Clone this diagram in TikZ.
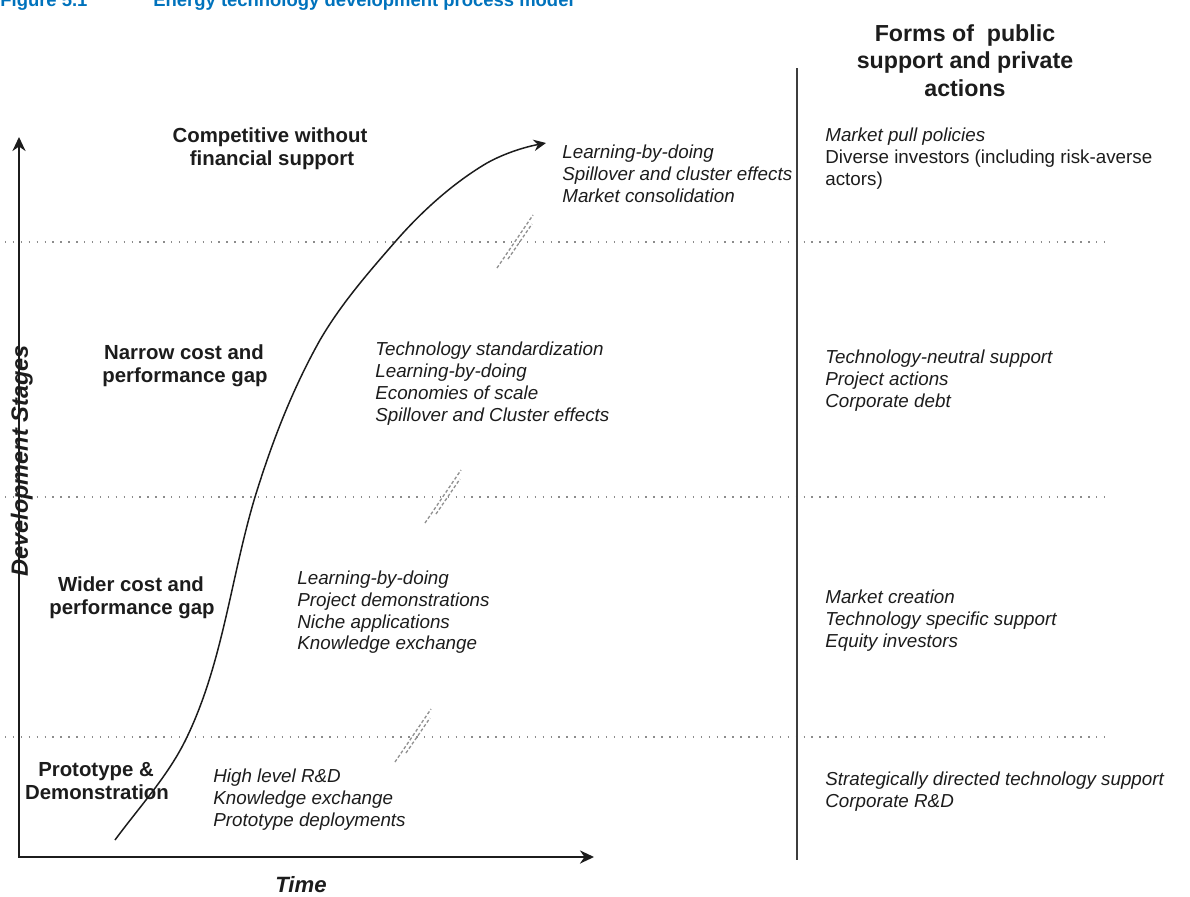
\documentclass[tikz,border=0pt]{standalone}
\usepackage{fontspec}
\setmainfont{Liberation Sans}
\usetikzlibrary{arrows.meta}
\definecolor{figblue}{RGB}{0,114,188}
\definecolor{ink}{RGB}{28,28,28}
\definecolor{dotgray}{RGB}{140,140,140}
\definecolor{slashgray}{RGB}{145,145,145}

\tikzset{
  body/.style={anchor=base west, inner sep=0pt, text=ink,
    font=\fontsize{10.7}{12.5}\selectfont\itshape},
  bodyup/.style={anchor=base west, inner sep=0pt, text=ink,
    font=\fontsize{10.7}{12.5}\selectfont},
  stage/.style={anchor=base, inner sep=0pt, text=ink,
    font=\fontsize{11.6}{13}\selectfont\bfseries},
  header/.style={anchor=base, inner sep=0pt, text=ink,
    font=\fontsize{13.2}{15.5}\selectfont\bfseries},
  axislabel/.style={anchor=base, inner sep=0pt, text=ink,
    font=\fontsize{12.6}{15}\selectfont\bfseries\itshape},
  figtitle/.style={anchor=base west, inner sep=0pt, text=figblue,
    font=\fontsize{10.5}{12}\selectfont\bfseries},
  axis/.style={line width=1.1pt, draw=ink,
    {Stealth[length=8pt,width=7.5pt]}-{Stealth[length=8pt,width=7.5pt]}},
  growth/.style={line width=0.85pt, draw=ink,
    -{Stealth[length=7pt,width=6.5pt]}},
  divider/.style={line width=1pt, draw=ink!85},
  level/.style={draw=dotgray, line width=0.9pt,
    dash pattern=on 0.8pt off 3.7pt},
  breakmark/.style={draw=slashgray, line width=0.75pt,
    dash pattern=on 1.8pt off 1.2pt},
}

\begin{document}
\begin{tikzpicture}[x=0.02cm, y=-0.02cm]
  \useasboundingbox (0,0) rectangle (1190,896);

  % caption, partly above the page edge
  \node[figtitle] (fignum) at (0,6) {Figure 5.1};
  \node[figtitle] (figname) at (153,6) {Energy technology development process model};

  % stage boundaries
  \draw[level] (5,242) -- (1110,242);
  \draw[level] (5,497) -- (1110,497);
  \draw[level] (5,737) -- (1110,737);

  % divider between mechanisms and support column
  \coordinate (divtop) at (797,68);
  \coordinate (divbot) at (797,860);
  \draw[divider] (divtop) -- (divbot);

  % axes
  \coordinate (ytip) at (19,137);
  \coordinate (xtip) at (594,857);
  \draw[axis] (ytip) |- (xtip);

  % break marks: a pair of short dashed slashes on each boundary
  \foreach \bx/\by in {497/268, 425/523, 395/762} {
    \draw[breakmark] (\bx,\by) -- ++(36,-53);
    \draw[breakmark] (\bx+11,\by-9) -- ++(24,-35);
  }

  % technology growth curve (S-shaped learning curve)
  \coordinate (cstart) at (115,840);
  \coordinate (cend) at (546,143);
  \draw[growth] (cstart)
    .. controls (140,806) and (169,775) .. (187,737)
    .. controls (223,662) and (231,577) .. (255,497)
    .. controls (272,442) and (292,390) .. (320,340)
    .. controls (341,304) and (368,273) .. (395,242)
    .. controls (421,212) and (453,183) .. (487,163)
    .. controls (505,153) and (525,147) .. (cend);

  % axis labels
  \node[axislabel, rotate=90, font=\fontsize{13.4}{15}\selectfont\bfseries\itshape]
    (ylab) at (28,461) {Development Stages};
  \node[axislabel] (xlab) at (301,892) {Time};

  % stage names
  \node[stage] (s4a) at (270,142) {Competitive without};
  \node[stage] (s4b) at (272,165) {financial support};
  \node[stage] (s3a) at (184,359) {Narrow cost and};
  \node[stage] (s3b) at (185,382) {performance gap};
  \node[stage] (s2a) at (131,591) {Wider cost and};
  \node[stage] (s2b) at (132,614) {performance gap};
  \node[stage] (s1a) at (96,776) {Prototype \&};
  \node[stage] (s1b) at (97,799) {Demonstration};

  % mechanisms per stage
  \node[body] (m4a) at (562,158) {Learning-by-doing};
  \node[body] (m4b) at (562,180) {Spillover and cluster effects};
  \node[body] (m4c) at (562,202) {Market consolidation};

  \node[body] (m3a) at (375,355) {Technology standardization};
  \node[body] (m3b) at (375,377) {Learning-by-doing};
  \node[body] (m3c) at (375,399) {Economies of scale};
  \node[body] (m3d) at (375,421) {Spillover and Cluster effects};

  \node[body] (m2a) at (297,584) {Learning-by-doing};
  \node[body] (m2b) at (297,606) {Project demonstrations};
  \node[body] (m2c) at (297,628) {Niche applications};
  \node[body] (m2d) at (297,649) {Knowledge exchange};

  \node[body] (m1a) at (213,782) {High level R\&D};
  \node[body] (m1b) at (213,804) {Knowledge exchange};
  \node[body] (m1c) at (213,826) {Prototype deployments};

  % support column
  \node[header] (h1) at (965,41) {Forms of \ public};
  \node[header] (h2) at (965,68.5) {support and private};
  \node[header] (h3) at (965,96) {actions};

  \node[body]   (p4a) at (825,141) {Market pull policies};
  \node[bodyup] (p4b) at (825,163) {Diverse investors (including risk-averse};
  \node[bodyup] (p4c) at (825,185) {actors)};

  \node[body] (p3a) at (825,363) {Technology-neutral support};
  \node[body] (p3b) at (825,385) {Project actions};
  \node[body] (p3c) at (825,407) {Corporate debt};

  \node[body] (p2a) at (825,603) {Market creation};
  \node[body] (p2b) at (825,625) {Technology specific support};
  \node[body] (p2c) at (825,647) {Equity investors};

  \node[body] (p1a) at (825,785) {Strategically directed technology support};
  \node[body] (p1b) at (825,807) {Corporate R\&D};
\end{tikzpicture}
\end{document}
